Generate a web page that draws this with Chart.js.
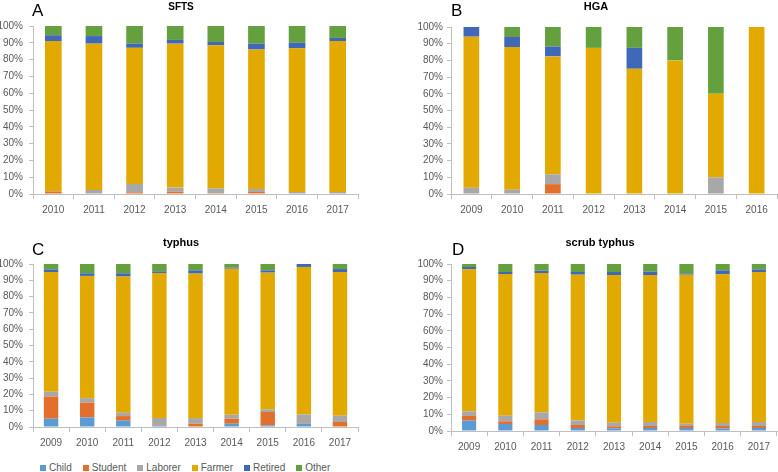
<!DOCTYPE html>
<html>
<head>
<meta charset="utf-8">
<script src="https://cdn.jsdelivr.net/npm/chart.js@4"></script>
<style>
  body { margin: 0; background: #fff; }
  #wrap { position: relative; width: 778px; height: 472px; overflow: hidden; font-family: 'Liberation Sans', Arial, sans-serif; }
  .pane { position: absolute; }
  .letter { position: absolute; font-family: Arial, 'Liberation Sans', sans-serif; font-size: 17px; color: #000; line-height: 1; }
  .title { position: absolute; font-family: Arial, 'Liberation Sans', sans-serif; font-weight: bold; color: #000; transform: translateX(-50%); white-space: nowrap; line-height: 1; }
  #legend { position: absolute; left: 40px; top: 462px; display: flex; font-size: 10px; color: #595959; line-height: 11px; }
  #legend span.item { display: flex; align-items: center; margin-right: 11px; }
  #legend span.box { width: 6px; height: 6px; margin-right: 3px; display: inline-block; }
</style>
</head>
<body>
<div id="wrap">
  <canvas id="chartA" class="pane"></canvas>
  <canvas id="chartB" class="pane"></canvas>
  <canvas id="chartC" class="pane"></canvas>
  <canvas id="chartD" class="pane"></canvas>
  <div class="letter" style="left:32px;top:2px">A</div>
  <div class="letter" style="left:451px;top:2px">B</div>
  <div class="letter" style="left:32px;top:241px">C</div>
  <div class="letter" style="left:452px;top:241px">D</div>
  <div class="title" style="left:181px;top:2px;font-size:10px">SFTS</div>
  <div class="title" style="left:596px;top:1px;font-size:11px">HGA</div>
  <div class="title" style="left:181px;top:237px;font-size:11px">typhus</div>
  <div class="title" style="left:600px;top:237px;font-size:11px">scrub typhus</div>
  <div id="legend"></div>
</div>
<script>
// occupation groups and colours
const groups = ['Child', 'Student', 'Laborer', 'Farmer', 'Retired', 'Other'];
const colors = ['#5b9bd5', '#e2702c', '#a8a8a8', '#e2aa00', '#3f68b8', '#65a03e'];
const yTicks = [0, 10, 20, 30, 40, 50, 60, 70, 80, 90, 100];

// A: SFTS
const yearsA = ['2010', '2011', '2012', '2013', '2014', '2015', '2016', '2017'];
const childA = [0, 0, 0, 0, 0, 0, 0, 0];
const studentA = [1.5, 0, 1, 1.4, 0.5, 1.2, 0, 0.3];
const laborerA = [0.3, 2.4, 5, 2.4, 2.9, 1.8, 1.2, 0.9];
const farmerA = [89.2, 87.1, 81, 85.7, 85.1, 83, 85.5, 89.8];
const retiredA = [3.5, 4.5, 2.5, 2.2, 2, 3.5, 3.3, 1.9];
const otherA = [5.5, 6, 10.5, 8.3, 9.5, 10.5, 10, 7.1];

// B: HGA
const yearsB = ['2009', '2010', '2011', '2012', '2013', '2014', '2015', '2016'];
const childB = [0, 0, 0, 0, 0, 0, 0, 0];
const studentB = [0, 0, 5.9, 0, 0, 0, 0, 0];
const laborerB = [3.8, 2.6, 5.9, 0, 0, 0, 10, 0];
const farmerB = [90.4, 85.4, 70.6, 87.5, 75, 80, 50, 100];
const retiredB = [5.8, 6, 5.9, 0, 12.5, 0, 0, 0];
const otherB = [0, 6, 11.8, 12.5, 12.5, 20, 40, 0];

// C: typhus
const yearsC = ['2009', '2010', '2011', '2012', '2013', '2014', '2015', '2016', '2017'];
const childC = [5.1, 5.9, 3.9, 0.8, 0.3, 2, 1, 2, 0.3];
const studentC = [13.6, 9, 2.8, 0.3, 1.7, 3.1, 8.2, 0.3, 2.8];
const laborerC = [2.9, 2.8, 2.1, 4.4, 3.5, 2.4, 1.6, 5.4, 3.8];
const farmerC = [73.5, 75, 83.5, 89, 88.6, 89.6, 83.9, 90.5, 88.2];
const retiredC = [1.6, 1.6, 2, 1, 2, 0.7, 1.4, 1.8, 1.8];
const otherC = [3.3, 5.7, 5.7, 4.5, 3.9, 2.2, 3.9, 0, 3.1];

// D: scrub typhus
const yearsD = ['2009', '2010', '2011', '2012', '2013', '2014', '2015', '2016', '2017'];
const childD = [6.2, 4.2, 3.6, 1.8, 1.6, 1.8, 1.8, 1.6, 1.8];
const studentD = [2.8, 1.6, 3.4, 1.8, 1.2, 1.2, 1.2, 1.4, 1.2];
const laborerD = [2.8, 3.4, 4.2, 2.8, 2.2, 2.4, 1.4, 1.8, 2.4];
const farmerD = [85, 84.8, 83.4, 87.2, 88.4, 88, 89.2, 89, 89.8];
const retiredD = [1.4, 1.2, 1.4, 1.6, 1.8, 2, 0.8, 2.4, 1.6];
const otherD = [1.8, 4.8, 4, 4.8, 4.8, 4.6, 5.6, 3.8, 3.2];

const fontFam = "'Liberation Sans', Arial, sans-serif";
const axisColor = '#bfbfbf';

// p: canvas box on the page, area: plot box inside the canvas
function makeChart(id, p, labels, series, area) {
    let el = document.getElementById(id);
    el.width = p.w;
    el.height = p.h;
    el.style.left = p.x + 'px';
    el.style.top = p.y + 'px';
    el.style.width = p.w + 'px';
    el.style.height = p.h + 'px';

    let datasets = [];
    for (let i = 0; i < groups.length; i++) {
        datasets.push({
            label: groups[i],
            data: series[i],
            backgroundColor: colors[i],
            borderWidth: 0,
            barPercentage: area.bar,
            categoryPercentage: 1
        });
    }

    return new Chart(el, {
        type: 'bar',
        data: { labels: labels, datasets: datasets },
        options: {
            responsive: false,
            animation: false,
            layout: { padding: { left: 0, right: p.w - area.right, top: area.top, bottom: 0 } },
            plugins: { legend: { display: false }, title: { display: false }, tooltip: { enabled: false } },
            scales: {
                x: {
                    stacked: true,
                    grid: { display: true, drawOnChartArea: false, offset: true, color: axisColor, tickLength: 5 },
                    border: { display: true, color: axisColor },
                    ticks: { color: '#595959', font: { family: fontFam, size: 10 }, padding: area.xpad, maxRotation: 0 },
                    afterFit: function (s) { s.height = p.h - area.bottom; }
                },
                y: {
                    stacked: true,
                    min: 0,
                    max: 100,
                    afterBuildTicks: function (s) { s.ticks = yTicks.map(v => ({ value: v })); },
                    grid: { display: true, drawOnChartArea: false, color: axisColor, tickLength: 4 },
                    border: { display: true, color: axisColor },
                    ticks: { color: '#595959', font: { family: fontFam, size: 10 }, padding: area.ypad, callback: v => v + '%' },
                    afterFit: function (s) { s.width = area.left; }
                }
            }
        }
    });
}

makeChart('chartA', { x: 0, y: 0, w: 390, h: 225 }, yearsA,
    [childA, studentA, laborerA, farmerA, retiredA, otherA],
    { left: 33, right: 358, top: 26, bottom: 194, bar: 0.41, xpad: 5, ypad: 6 });

makeChart('chartB', { x: 390, y: 0, w: 388, h: 225 }, yearsB,
    [childB, studentB, laborerB, farmerB, retiredB, otherB],
    { left: 61, right: 387, top: 27, bottom: 194, bar: 0.385, xpad: 5, ypad: 4 });

makeChart('chartC', { x: 0, y: 230, w: 390, h: 225 }, yearsC,
    [childC, studentC, laborerC, farmerC, retiredC, otherC],
    { left: 33, right: 358, top: 34, bottom: 197, bar: 0.4, xpad: 5, ypad: 6 });

makeChart('chartD', { x: 390, y: 230, w: 388, h: 225 }, yearsD,
    [childD, studentD, laborerD, farmerD, retiredD, otherD],
    { left: 61, right: 387, top: 34, bottom: 201, bar: 0.39, xpad: 5, ypad: 4 });

// legend under panel C
let legend = document.getElementById('legend');
for (let i = 0; i < groups.length; i++) {
    legend.innerHTML += '<span class="item"><span class="box" style="background:' + colors[i] + '"></span>' + groups[i] + '</span>';
}
</script>
</body>
</html>
